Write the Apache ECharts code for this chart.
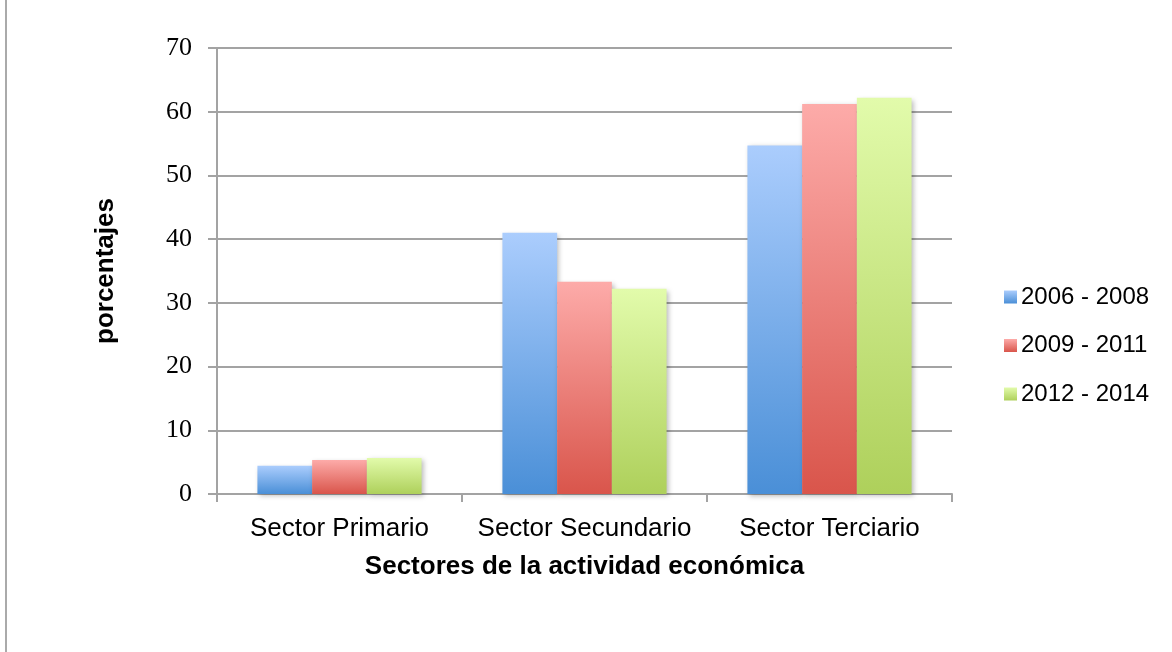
<!DOCTYPE html>
<html>
<head>
<meta charset="utf-8">
<script src="https://cdn.jsdelivr.net/npm/echarts@6/dist/echarts.min.js"></script>
<style>
  html, body { margin: 0; padding: 0; background: #ffffff; }
  #chart { width: 1172px; height: 652px; }
</style>
</head>
<body>
<div id="chart"></div>
<script>
// Sectors of economic activity, share of each period (%)
const categories = ['Sector Primario', 'Sector Secundario', 'Sector Terciario'];
const periods = ['2006 - 2008', '2009 - 2011', '2012 - 2014'];
const values2006_2008 = [4.45, 41.0, 54.7];
const values2009_2011 = [5.35, 33.3, 61.2];
const values2012_2014 = [5.65, 32.2, 62.2];
const yTicks = [0, 10, 20, 30, 40, 50, 60, 70];

const seriesValues = [values2006_2008, values2009_2011, values2012_2014];
const gradients = [
  ['#abcdfd', '#4a8fd7'],
  ['#fdaba9', '#d9554b'],
  ['#e2fbab', '#aed05b']
];

function vGrad(top, bottom) {
  return new echarts.graphic.LinearGradient(0, 0, 0, 1, [
    { offset: 0, color: top },
    { offset: 1, color: bottom }
  ]);
}

const chart = echarts.init(document.getElementById('chart'), null, { renderer: 'canvas' });

const axisGrey = '#a3a3a3';

chart.setOption({
  backgroundColor: '#ffffff',
  animation: false,
  graphic: [{
    type: 'line',
    shape: { x1: 6, y1: 0, x2: 6, y2: 652 },
    style: { stroke: '#aaaaaa', lineWidth: 2 }
  }],
  grid: { left: 217, right: 220, top: 48, bottom: 158 },
  legend: {
    orient: 'vertical',
    left: 1004,
    top: 285,
    padding: 0,
    icon: 'rect',
    itemWidth: 13,
    itemHeight: 13,
    itemGap: 24.5,
    data: periods,
    textStyle: {
      fontFamily: 'Liberation Sans, Arial, sans-serif',
      fontSize: 24,
      color: '#000',
      padding: [0, 0, 0, -1],
      lineHeight: 24
    }
  },
  xAxis: {
    type: 'category',
    data: categories,
    boundaryGap: true,
    name: 'Sectores de la actividad económica',
    nameLocation: 'middle',
    nameGap: 60,
    nameTextStyle: {
      fontFamily: 'Liberation Sans, Arial, sans-serif',
      fontSize: 26,
      fontWeight: 'bold',
      color: '#000'
    },
    axisLine: { show: true, lineStyle: { color: axisGrey, width: 2 } },
    axisTick: { show: true, interval: 0, length: 8, alignWithLabel: false, lineStyle: { color: axisGrey, width: 2 } },
    axisLabel: {
      interval: 0,
      margin: 22,
      fontFamily: 'Liberation Sans, Arial, sans-serif',
      fontSize: 26,
      color: '#000'
    }
  },
  yAxis: {
    type: 'value',
    min: yTicks[0],
    max: yTicks[yTicks.length - 1],
    interval: 10,
    name: 'porcentajes',
    nameLocation: 'middle',
    nameRotate: 90,
    nameGap: 98,
    nameTextStyle: {
      fontFamily: 'Liberation Sans, Arial, sans-serif',
      fontSize: 26,
      fontWeight: 'bold',
      color: '#000'
    },
    axisLine: { show: true, lineStyle: { color: axisGrey, width: 2 } },
    axisTick: { show: true, length: 9, lineStyle: { color: axisGrey, width: 2 } },
    splitLine: { show: true, lineStyle: { color: axisGrey, width: 2 } },
    axisLabel: {
      margin: 25,
      fontFamily: 'Liberation Serif, Times New Roman, serif',
      fontSize: 26,
      color: '#000'
    }
  },
  series: periods.map((name, i) => ({
    name: name,
    type: 'bar',
    data: seriesValues[i],
    barGap: '0%',
    barCategoryGap: '33%',
    itemStyle: {
      color: vGrad(gradients[i][0], gradients[i][1]),
      shadowColor: 'rgba(0,0,0,0.28)',
      shadowBlur: 5,
      shadowOffsetX: 2,
      shadowOffsetY: 2
    }
  }))
});
</script>
</body>
</html>
